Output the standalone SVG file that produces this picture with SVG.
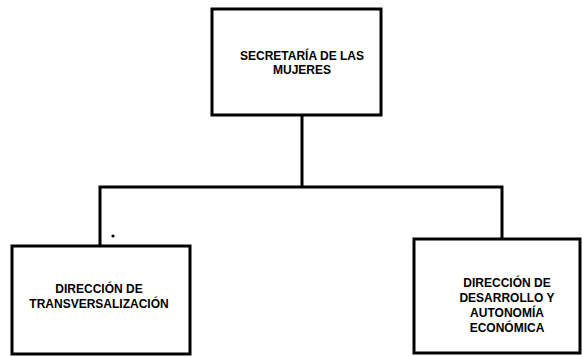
<svg xmlns="http://www.w3.org/2000/svg" width="583" height="357" viewBox="0 0 583 357">
<style>
.box{fill:#fff;stroke:#000;stroke-width:3}
.conn{fill:none;stroke:#000;stroke-width:3}
text{font-family:"Liberation Sans",Arial,sans-serif;font-weight:bold;font-size:12px;fill:#000;text-anchor:middle}
</style>
<rect width="583" height="357" fill="#fff"/>
<g id="connectors">
<path class="conn" d="M302,116 V187"/>
<path class="conn" d="M100,246 V187 H502 V239"/>
<circle cx="113" cy="236" r="1.6" fill="#000"/>
</g>
<g id="n_secretaria">
<rect class="box" x="212" y="9" width="169" height="106"/>
<text x="302" y="60">SECRETARÍA DE LAS</text>
<text x="302" y="74">MUJERES</text>
</g>
<g id="n_transversalizacion">
<rect class="box" x="12" y="246" width="178" height="108"/>
<text x="99" y="293">DIRECCIÓN DE</text>
<text x="99" y="308">TRANSVERSALIZACIÓN</text>
</g>
<g id="n_desarrollo">
<rect class="box" x="414" y="239" width="166" height="114"/>
<text x="507" y="287">DIRECCIÓN DE</text>
<text x="507" y="302">DESARROLLO Y</text>
<text x="507" y="317">AUTONOMÍA</text>
<text x="507" y="332">ECONÓMICA</text>
</g>
</svg>
